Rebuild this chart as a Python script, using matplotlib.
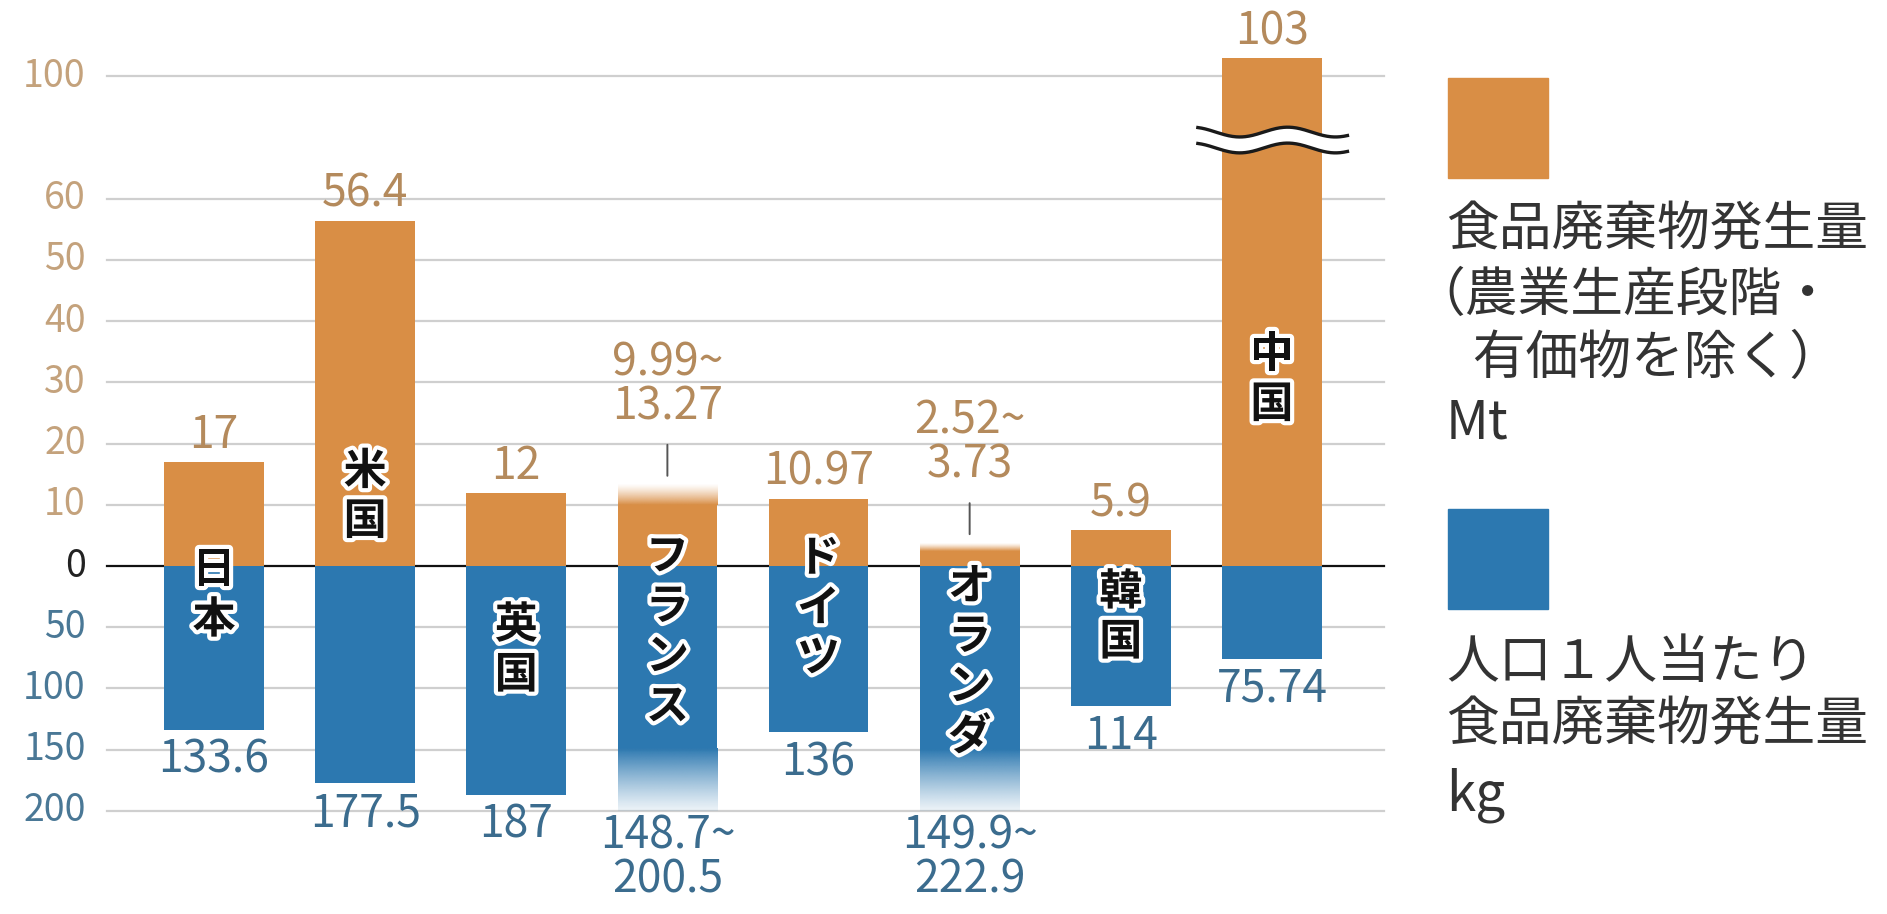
import numpy as np
import matplotlib
matplotlib.use('Agg')
import matplotlib.pyplot as plt
import matplotlib.patheffects as pe
from matplotlib.colors import to_rgb
from matplotlib.patches import Rectangle

plt.rcParams['font.family'] = ['Noto Sans CJK JP', 'DejaVu Sans']

# data
countries = ['日本', '米国', '英国', 'フランス', 'ドイツ', 'オランダ', '韓国', '中国']
waste_mt_low = [17, 56.4, 12, 9.99, 10.97, 2.52, 5.9, 103]
waste_mt_high = [17, 56.4, 12, 13.27, 10.97, 3.73, 5.9, 103]
per_capita_low = [133.6, 177.5, 187, 148.7, 136, 149.9, 114, 75.74]
per_capita_high = [133.6, 177.5, 187, 200.5, 136, 222.9, 114, 75.74]
mt_ticks = [0, 10, 20, 30, 40, 50, 60, 100]
kg_ticks = [50, 100, 150, 200]
legend_mt = ['食品廃棄物発生量', '（農業生産段階・', '　有価物を除く）', 'Mt']
legend_kg = ['人口１人当たり', '食品廃棄物発生量', 'kg']

# styles / layout
ORANGE = '#d98e45'
BLUE = '#2c78b0'
ORANGE_TXT = '#b48a5c'
BLUE_TXT = '#3b6c8e'
ORANGE_TICK = '#c4a27c'
BLUE_TICK = '#4a7896'
KG_SCALE = 5.0          # 50 kg drawn as 10 Mt
BREAK_AT = 60
BREAK_SHIFT = 20        # 100 drawn at 80
label_pos = [-4.7, 11.4, -13.7, -10.7, -6.9, -15.6, -8.3, 30.5]
W, H = 1887, 914
PX_PER_UNIT = 6.12

def mt_pos(v):
    return v - BREAK_SHIFT if v > BREAK_AT else v

def kg_pos(v):
    return -v / KG_SCALE

fig = plt.figure(figsize=(W / 100, H / 100), dpi=100)
ax = fig.add_axes([0, 0, 1, 1])
ax.axis('off')
xlim = (-1.416, 11.07)
ylim = (-56.86, 92.48)

n = len(countries)
x = np.arange(n)
bw = 0.66
gx0, gx1 = -0.708, n - 1 + 0.743

# grid
for t in mt_ticks[1:]:
    ax.plot([gx0, gx1], [mt_pos(t)] * 2, color='#cfcfcf', lw=1.6, zorder=1)
    ax.text(gx0 - 0.14, mt_pos(t), str(t), ha='right', va='center',
            fontsize=27, color=ORANGE_TICK)
for t in kg_ticks:
    ax.plot([gx0, gx1], [kg_pos(t)] * 2, color='#cfcfcf', lw=1.6, zorder=1)
    ax.text(gx0 - 0.14, kg_pos(t), str(t), ha='right', va='center',
            fontsize=27, color=BLUE_TICK)
ax.plot([gx0, gx1], [0, 0], color='#111111', lw=1.6, zorder=1)
ax.text(gx0 - 0.14, 0, '0', ha='right', va='center', fontsize=27, color='#222222')

def fade(xc, y_solid, y_end, color, a_end=0.08):
    rgb = to_rgb(color)
    N = 200
    arr = np.zeros((N, 1, 4))
    arr[..., :3] = rgb
    arr[:, 0, 3] = np.linspace(1, a_end, N) ** 1.3
    if y_end < y_solid:
        arr = arr[::-1]
        ext = [xc - bw / 2, xc + bw / 2, y_end, y_solid]
    else:
        ext = [xc - bw / 2, xc + bw / 2, y_solid, y_end]
    ax.imshow(arr, extent=ext, origin='lower', aspect='auto',
              interpolation='bilinear', zorder=2)

kg_max = max(kg_ticks)
for i in range(n):
    lo, hi = waste_mt_low[i], waste_mt_high[i]
    top = mt_pos(hi)
    if lo == hi:
        ax.bar(x[i], top, width=bw, color=ORANGE, zorder=2)
        ax.annotate(f'{hi:g}', (x[i], top), xytext=(0, 10), textcoords='offset points',
                    ha='center', va='baseline', fontsize=32, color=ORANGE_TXT, zorder=5)
    else:
        ax.bar(x[i], lo, width=bw, color=ORANGE, zorder=2)
        fade(x[i], lo, hi, ORANGE, a_end=0.03)
        ax.annotate('', (x[i], hi), xytext=(x[i], hi + 40 / PX_PER_UNIT),
                    arrowprops=dict(arrowstyle='-', color='#555555', lw=1.4,
                                    shrinkA=0, shrinkB=9 / 1.389))
        ax.annotate(f'{lo:g}~\n{hi:g}', (x[i], top), xytext=(0, 40), textcoords='offset points',
                    ha='center', va='bottom', fontsize=32, color=ORANGE_TXT, zorder=5,
                    linespacing=0.95)

    lo, hi = per_capita_low[i], per_capita_high[i]
    if lo == hi:
        ax.bar(x[i], kg_pos(hi), width=bw, color=BLUE, zorder=2)
        ax.annotate(f'{hi:g}', (x[i], kg_pos(hi)), xytext=(0, -31), textcoords='offset points',
                    ha='center', va='baseline', fontsize=32, color=BLUE_TXT, zorder=5)
    else:
        end = min(hi, kg_max)
        ax.bar(x[i], kg_pos(lo), width=bw, color=BLUE, zorder=2)
        fade(x[i], kg_pos(lo), kg_pos(end), BLUE, a_end=0.15)
        ax.annotate(f'{lo:g}~\n{hi:g}', (x[i], kg_pos(end)), xytext=(0, -1),
                    textcoords='offset points', ha='center', va='top', fontsize=32,
                    color=BLUE_TXT, zorder=5, linespacing=0.95)

    # vertical country name
    chars = list(countries[i])
    pitch = 50 / PX_PER_UNIT
    start = label_pos[i] + pitch * (len(chars) - 1) / 2
    for k, ch in enumerate(chars):
        ax.text(x[i], start - k * pitch, ch, ha='center', va='center', fontsize=31,
                fontweight='bold', color='#111111', zorder=6,
                path_effects=[pe.withStroke(linewidth=6, foreground='white')])

# axis break on the tall bar
bi = int(np.argmax(waste_mt_high))
t = np.linspace(0, 1, 200)
bx = x[bi] - 0.49 + 0.99 * t
wave = 0.8 * np.sin(2 * np.pi * (t - 0.28) / 0.64 - np.pi / 2)
mid = (BREAK_AT + mt_pos(100)) / 2 - 0.4
up = mid + 1.3 + wave
dn = mid - 1.3 + wave
ax.fill_between(bx, dn, up, color='white', zorder=7, lw=0)
ax.plot(bx, up, color='#1a1a1a', lw=2.4, zorder=8)
ax.plot(bx, dn, color='#1a1a1a', lw=2.4, zorder=8)

ax.set_xlim(*xlim)
ax.set_ylim(*ylim)

# legend
def fx(px):
    return px / W

def fy(py):
    return 1 - py / H

fig.add_artist(Rectangle((fx(1448), fy(178)), 100 / W, 100 / H, transform=fig.transFigure,
                         color=ORANGE))
fig.add_artist(Rectangle((fx(1448), fy(609)), 100 / W, 100 / H, transform=fig.transFigure,
                         color=BLUE))
for line, px, py in zip(legend_mt, [1446, 1412, 1420, 1446], [230, 295, 358, 423]):
    fig.text(fx(px), fy(py), line, ha='left', va='center', fontsize=38, color='#333333')
for line, py in zip(legend_kg, [662, 725, 795]):
    fig.text(fx(1446), fy(py), line, ha='left', va='center', fontsize=38, color='#333333')

fig.savefig('out.png', dpi=100, facecolor='white')
